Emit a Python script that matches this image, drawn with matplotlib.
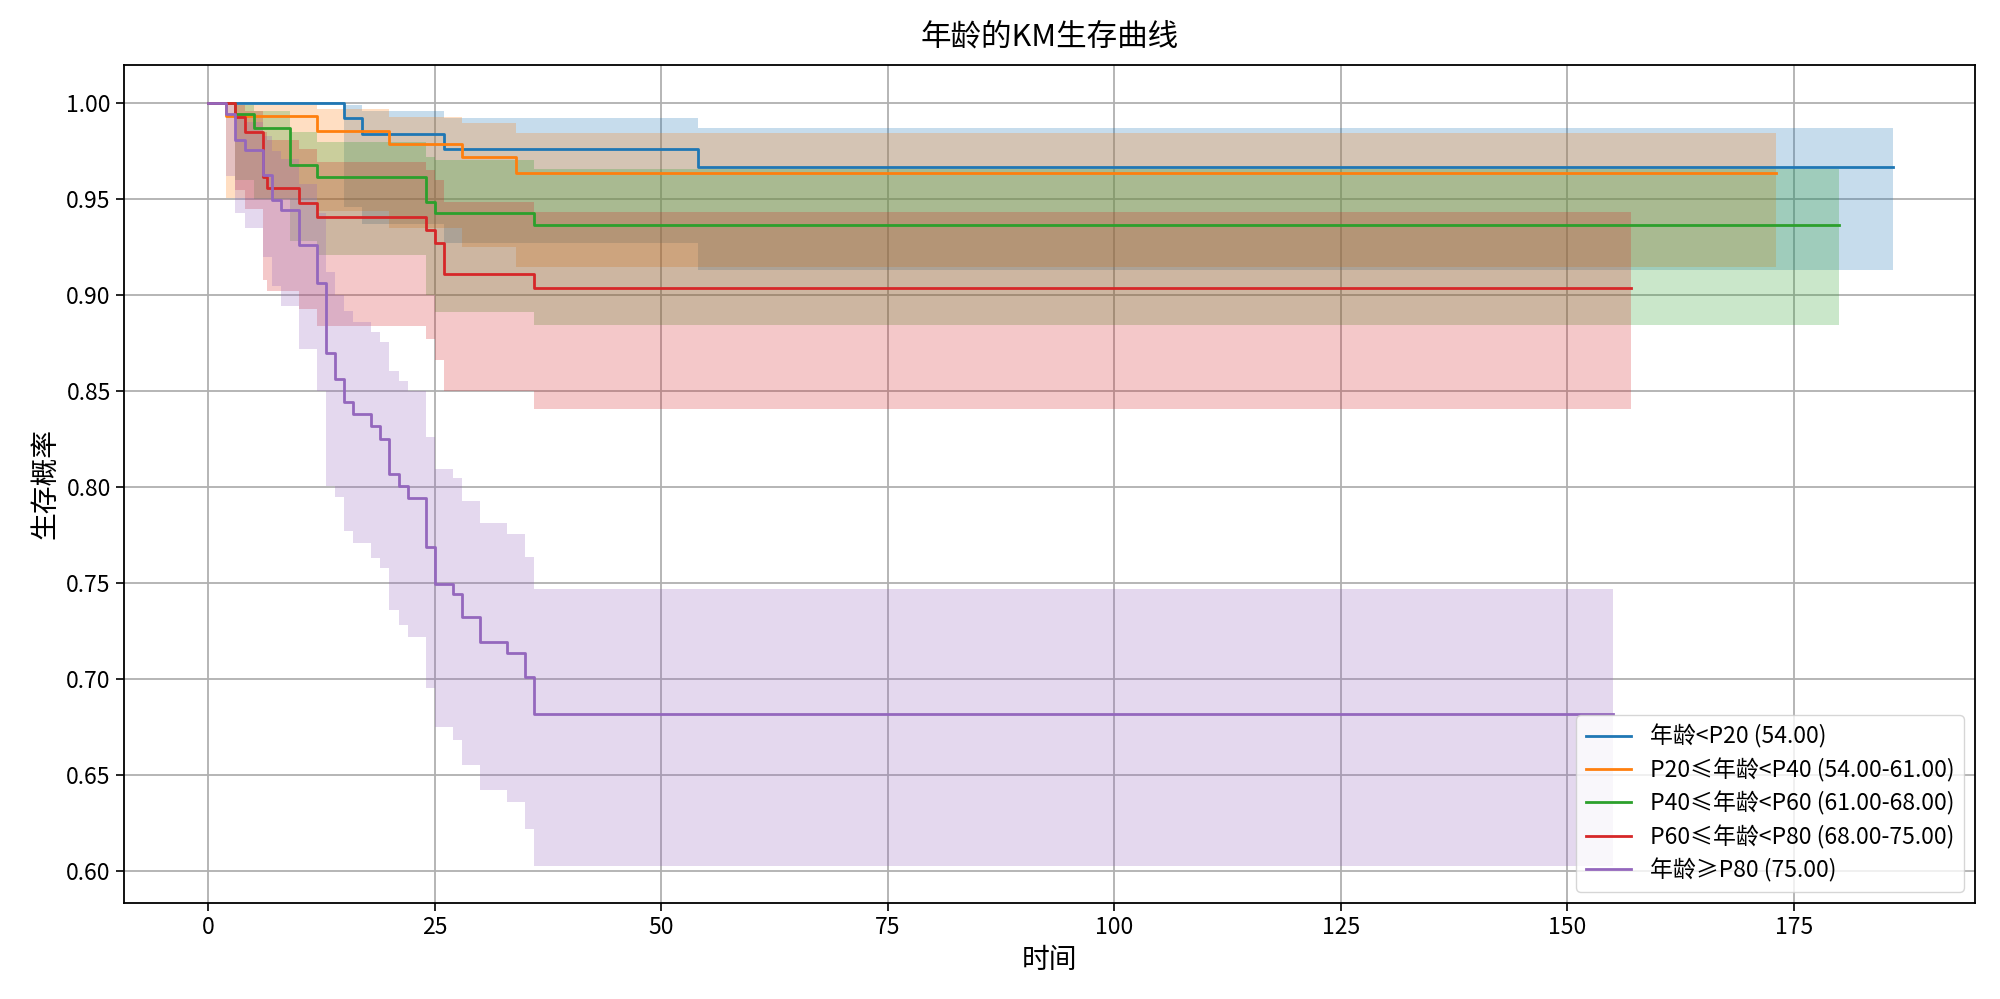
import matplotlib
matplotlib.use("Agg")
import matplotlib.pyplot as plt

plt.rcParams['font.family'] = ['Noto Sans CJK SC', 'DejaVu Sans']
plt.rcParams['axes.unicode_minus'] = False

labels = [
    "年龄<P20 (54.00)",
    "P20≤年龄<P40 (54.00-61.00)",
    "P40≤年龄<P60 (61.00-68.00)",
    "P60≤年龄<P80 (68.00-75.00)",
    "年龄≥P80 (75.00)",
]
colors = ["#1f77b4", "#ff7f0e", "#2ca02c", "#d62728", "#9467bd"]

# group 1: age < P20
t1 = [0, 15, 17, 26, 54, 186]
s1 = [1.0, 0.9922, 0.9838, 0.976, 0.967, 0.967]
hi1 = [1.0, 0.999, 0.9957, 0.9922, 0.987, 0.987]
lo1 = [1.0, 0.946, 0.937, 0.9274, 0.9132, 0.9132]

# group 2: P20 - P40
t2 = [0, 2, 12, 20, 28, 34, 173]
s2 = [1.0, 0.9935, 0.9856, 0.9786, 0.9717, 0.9638, 0.9638]
hi2 = [1.0, 0.999, 0.997, 0.993, 0.9896, 0.9843, 0.9843]
lo2 = [1.0, 0.9504, 0.944, 0.935, 0.9252, 0.9148, 0.9148]

# group 3: P40 - P60
t3 = [0, 3, 5, 9, 12, 24, 25, 36, 180]
s3 = [1.0, 0.9944, 0.987, 0.968, 0.9617, 0.9487, 0.943, 0.9365, 0.9365]
hi3 = [1.0, 0.9992, 0.996, 0.985, 0.980, 0.972, 0.9704, 0.9656, 0.9656]
lo3 = [1.0, 0.960, 0.950, 0.928, 0.921, 0.900, 0.891, 0.8844, 0.8844]

# group 4: P60 - P80
t4 = [0, 3, 4, 6, 6.5, 10, 12, 24, 25, 26, 36, 157]
s4 = [1.0, 0.993, 0.9852, 0.9614, 0.9557, 0.9478, 0.9409, 0.934, 0.927, 0.911, 0.904, 0.904]
hi4 = [1.0, 0.999, 0.996, 0.985, 0.981, 0.976, 0.9696, 0.965, 0.960, 0.9487, 0.9434, 0.9434]
lo4 = [1.0, 0.955, 0.945, 0.908, 0.902, 0.893, 0.884, 0.877, 0.8665, 0.850, 0.8405, 0.8405]

# group 5: age >= P80
t5 = [0, 2, 3, 4, 6, 7, 8, 10, 12, 13, 14, 15, 16, 18, 19, 20, 21, 22, 24, 25,
      27, 28, 30, 33, 35, 36, 155]
s5 = [1.0, 0.9944, 0.981, 0.9755, 0.9626, 0.9496, 0.9443, 0.926, 0.9064, 0.870,
      0.8565, 0.8442, 0.838, 0.832, 0.825, 0.8067, 0.8005, 0.7942, 0.7688, 0.7495,
      0.7444, 0.7326, 0.7196, 0.7135, 0.701, 0.6818, 0.6818]
hi5 = [1.0, 0.9992, 0.9935, 0.990, 0.983, 0.975, 0.971, 0.958, 0.943, 0.912,
       0.900, 0.892, 0.886, 0.8807, 0.8754, 0.8605, 0.8553, 0.850, 0.8263, 0.8096,
       0.8048, 0.793, 0.7816, 0.7755, 0.7636, 0.747, 0.747]
lo5 = [1.0, 0.962, 0.9426, 0.935, 0.920, 0.905, 0.8944, 0.8719, 0.850, 0.8009,
       0.7947, 0.7772, 0.771, 0.7632, 0.7579, 0.736, 0.7283, 0.7222, 0.6952, 0.6752,
       0.6683, 0.6552, 0.6422, 0.636, 0.6222, 0.603, 0.603]

groups = [
    (t1, s1, lo1, hi1),
    (t2, s2, lo2, hi2),
    (t3, s3, lo3, hi3),
    (t4, s4, lo4, hi4),
    (t5, s5, lo5, hi5),
]

fig = plt.figure(figsize=(20, 9.99), dpi=100)
ax = fig.add_axes([0.062, 0.0961, 0.9255, 0.8389])

for (t, s, lo, hi), lab, c in zip(groups, labels, colors):
    ax.step(t, s, where="post", color=c, linewidth=2.0, label=lab)
    ax.fill_between(t, lo, hi, step="post", color=c, alpha=0.25, linewidth=0)

ax.set_xlim(-9.3, 195.0)
ax.set_ylim(0.5835, 1.0199)
ax.set_xticks([0, 25, 50, 75, 100, 125, 150, 175])
ax.set_yticks([0.60, 0.65, 0.70, 0.75, 0.80, 0.85, 0.90, 0.95, 1.00])
ax.yaxis.set_major_formatter(matplotlib.ticker.FormatStrFormatter("%.2f"))
ax.tick_params(labelsize=16.5, length=6, width=1.2)
ax.grid(True, color="#b0b0b0", linewidth=1.3)
ax.set_axisbelow(True)
for sp in ax.spines.values():
    sp.set_linewidth(1.3)

ax.set_title("年龄的KM生存曲线", fontsize=22, pad=14)
ax.set_xlabel("时间", fontsize=20)
ax.set_ylabel("生存概率", fontsize=20)
ax.legend(loc="lower right", fontsize=16.5, labelspacing=0.4)

fig.savefig("out.png", dpi=100)
